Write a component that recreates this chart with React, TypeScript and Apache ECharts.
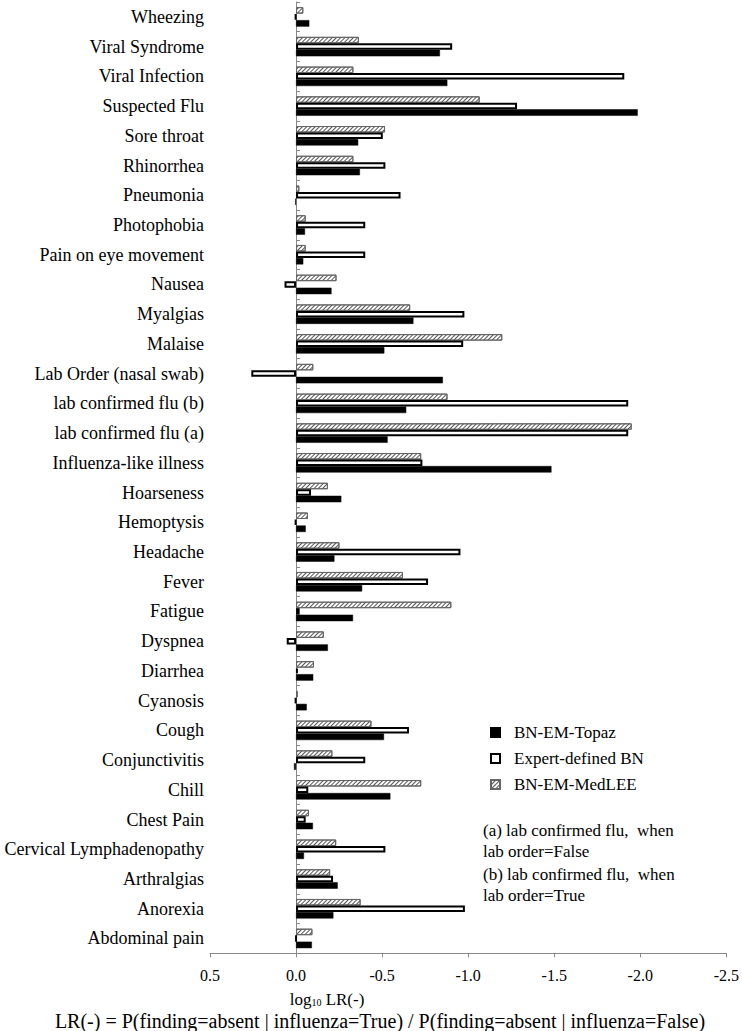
import React, { useEffect, useRef } from "react";
import * as echarts from "echarts";

const categories = [
  "Wheezing", "Viral Syndrome", "Viral Infection", "Suspected Flu", "Sore throat",
  "Rhinorrhea", "Pneumonia", "Photophobia", "Pain on eye movement", "Nausea",
  "Myalgias", "Malaise", "Lab Order (nasal swab)", "lab confirmed flu (b)",
  "lab confirmed flu (a)", "Influenza-like illness", "Hoarseness", "Hemoptysis",
  "Headache", "Fever", "Fatigue", "Dyspnea", "Diarrhea", "Cyanosis", "Cough",
  "Conjunctivitis", "Chill", "Chest Pain", "Cervical Lymphadenopathy",
  "Arthralgias", "Anorexia", "Abdominal pain",
];

const topaz = [
  -0.077, -0.836, -0.879, -1.985, -0.361, -0.371, 0.005, -0.052, -0.042, -0.206,
  -0.682, -0.513, -0.853, -0.64, -0.532, -1.484, -0.263, -0.056, -0.223, -0.384,
  -0.331, -0.185, -0.1, -0.062, -0.511, 0.012, -0.548, -0.098, -0.046, -0.242,
  -0.217, -0.092,
];

const expert = [
  0.005, -0.907, -1.907, -1.284, -0.504, -0.519, -0.607, -0.402, -0.402, 0.067,
  -0.978, -0.971, 0.26, -1.93, -1.93, -0.734, -0.087, 0.005, -0.955, -0.767,
  -0.021, 0.054, -0.01, 0.005, -0.656, -0.402, -0.071, -0.056, -0.519, -0.215,
  -0.981, 0,
];

const medlee = [
  -0.042, -0.365, -0.333, -1.067, -0.517, -0.333, -0.019, -0.056, -0.056, -0.235,
  -0.663, -1.198, -0.1, -0.88, -1.95, -0.727, -0.185, -0.069, -0.252, -0.621,
  -0.902, -0.161, -0.104, -0.01, -0.438, -0.211, -0.727, -0.075, -0.233, -0.198,
  -0.375, -0.095,
];

const xTicks = { min: -2.5, max: 0.5, interval: 0.5 };

const seriesNames = ["BN-EM-Topaz", "Expert-defined BN", "BN-EM-MedLEE"];
const notes = [
  "(a) lab confirmed flu,  when",
  "lab order=False",
  "(b) lab confirmed flu,  when",
  "lab order=True",
];
const axisTitle = { base: "log", sub: "10", rest: " LR(-)" };
const formula =
  "LR(-) = P(finding=absent | influenza=True) / P(finding=absent | influenza=False)";

const SERIF = '"Liberation Serif", "Times New Roman", serif';

export default function App() {
  const ref = useRef<HTMLDivElement>(null);

  useEffect(() => {
    if (!ref.current) return;
    const chart = echarts.init(ref.current, null, { renderer: "svg" });
    const barW = 6.5;
    const hatchDecal = {
      symbol: "rect",
      symbolSize: 1,
      color: "#555",
      backgroundColor: "#fff",
      dashArrayX: [1, 0],
      dashArrayY: [1, 2],
      rotation: -Math.PI / 4,
    };
    const option: any = {
      animation: false,
      backgroundColor: "#fff",
      textStyle: { fontFamily: SERIF },
      grid: { left: 210, right: 11.3, top: 2, bottom: 77.7, containLabel: false },
      legend: {
        orient: "vertical",
        left: 485,
        top: 719,
        itemWidth: 9,
        itemHeight: 9,
        itemGap: 9,
        icon: "rect",
        data: seriesNames,
        selectedMode: false,
        formatter: (name: string) => `{t|${name}}`,
        textStyle: {
          fontFamily: SERIF,
          fontSize: 17,
          color: "#000",
          rich: {
            t: {
              fontFamily: SERIF,
              fontSize: 17,
              color: "#000",
              lineHeight: 18,
              padding: [0, 0, 0, 9],
            },
          },
        },
      },
      xAxis: {
        type: "value",
        inverse: true,
        min: xTicks.min,
        max: xTicks.max,
        interval: xTicks.interval,
        axisLine: { show: true, onZero: false, lineStyle: { color: "#888", width: 1 } },
        axisTick: { show: true, length: 4, lineStyle: { color: "#888" } },
        splitLine: { show: false },
        axisLabel: {
          fontFamily: SERIF,
          fontSize: 16,
          color: "#000",
          margin: 14,
          formatter: (v: number) => v.toFixed(1),
        },
      },
      yAxis: [
        {
          type: "category",
          data: categories,
          inverse: true,
          position: "left",
          axisLine: { show: false, onZero: false },
          axisTick: { show: false },
          axisLabel: { fontFamily: SERIF, fontSize: 18, color: "#000", margin: 6 },
        },
        {
          type: "category",
          data: categories,
          inverse: true,
          position: "right",
          axisLine: { show: true, onZero: true, lineStyle: { color: "#888", width: 1 } },
          axisTick: { show: true, length: 4, lineStyle: { color: "#888" } },
          axisLabel: { show: false },
        },
      ],
      series: [
        {
          name: seriesNames[2],
          type: "bar",
          data: medlee,
          barWidth: barW,
          barGap: "0%",
          itemStyle: { color: "#fff", borderColor: "#666", borderWidth: 1, decal: hatchDecal },
        },
        {
          name: seriesNames[1],
          type: "bar",
          data: expert,
          barWidth: barW,
          barGap: "0%",
          itemStyle: { color: "#fff", borderColor: "#000", borderWidth: 2 },
        },
        {
          name: seriesNames[0],
          type: "bar",
          data: topaz,
          barWidth: barW,
          barGap: "0%",
          itemStyle: { color: "#000", borderColor: "#000", borderWidth: 0.5 },
        },
      ],
      graphic: [
        {
          type: "text",
          x: 327,
          y: 999,
          style: {
            text: `{a|${axisTitle.base}}{s|${axisTitle.sub}}{a|${axisTitle.rest}}`,
            align: "center",
            verticalAlign: "middle",
            rich: {
              a: { fontFamily: SERIF, fontSize: 17, fill: "#000" },
              s: { fontFamily: SERIF, fontSize: 10, fill: "#000", padding: [6, 0, 0, 0] },
            },
          },
        },
        {
          type: "text",
          x: 380,
          y: 1021,
          style: {
            text: formula,
            fontFamily: SERIF,
            fontSize: 20,
            fill: "#000",
            align: "center",
            verticalAlign: "middle",
          },
        },
        ...notes.map((t, i) => ({
          type: "text",
          x: 483,
          y: [830, 851, 874, 895][i],
          style: {
            text: t,
            fontFamily: SERIF,
            fontSize: 17,
            fill: "#000",
            align: "left",
            verticalAlign: "middle",
          },
        })),
      ],
    };
    chart.setOption(option);
    return () => chart.dispose();
  }, []);

  return (
    <div
      ref={ref}
      style={{ position: "absolute", left: 0, top: 0, width: 742, height: 1031 }}
    />
  );
}
